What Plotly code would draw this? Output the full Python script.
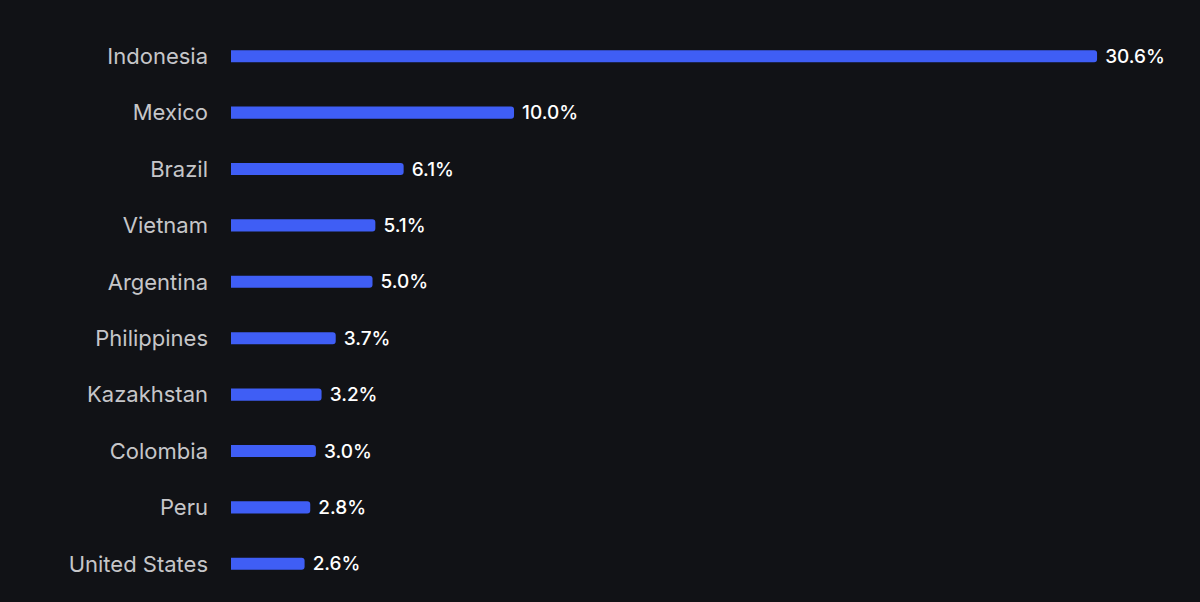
import plotly.graph_objects as go

countries = ["Indonesia", "Mexico", "Brazil", "Vietnam", "Argentina",
             "Philippines", "Kazakhstan", "Colombia", "Peru", "United States"]
shares = [30.6, 10.0, 6.1, 5.1, 5.0, 3.7, 3.2, 3.0, 2.8, 2.6]
value_labels = ["30.6%", "10.0%", "6.1%", "5.1%", "5.0%", "3.7%", "3.2%", "3.0%", "2.8%", "2.6%"]

fig = go.Figure(go.Bar(
    x=shares,
    y=countries,
    orientation="h",
    width=0.215,
    marker=dict(color="#3f5ef5", line=dict(width=0), cornerradius=3),
    text=value_labels,
    texttemplate="\u00a0%{text}",
    textposition="outside",
    constraintext="none",
    textfont=dict(color="#ffffff", size=19, family="Inter", weight=500),
    cliponaxis=False,
    hoverinfo="skip",
))

fig.update_layout(
    width=1200, height=602,
    paper_bgcolor="#111216",
    plot_bgcolor="#111216",
    margin=dict(l=231, r=35, t=28, b=10),
    showlegend=False,
    font=dict(family="Inter", color="#c9c9cc"),
)
fig.update_xaxes(range=[0, 33], visible=False, showgrid=False, zeroline=False)
fig.update_yaxes(
    autorange="reversed",
    showgrid=False, zeroline=False, showline=False,
    ticks="",
    ticklabelstandoff=22,
    tickfont=dict(size=22, color="#c6c6c9", family="Inter"),
)

fig.write_html(
    "out.html",
    config={"displayModeBar": False},
    post_script="document.body.style.margin='0';document.body.style.background='#111216';",
)
